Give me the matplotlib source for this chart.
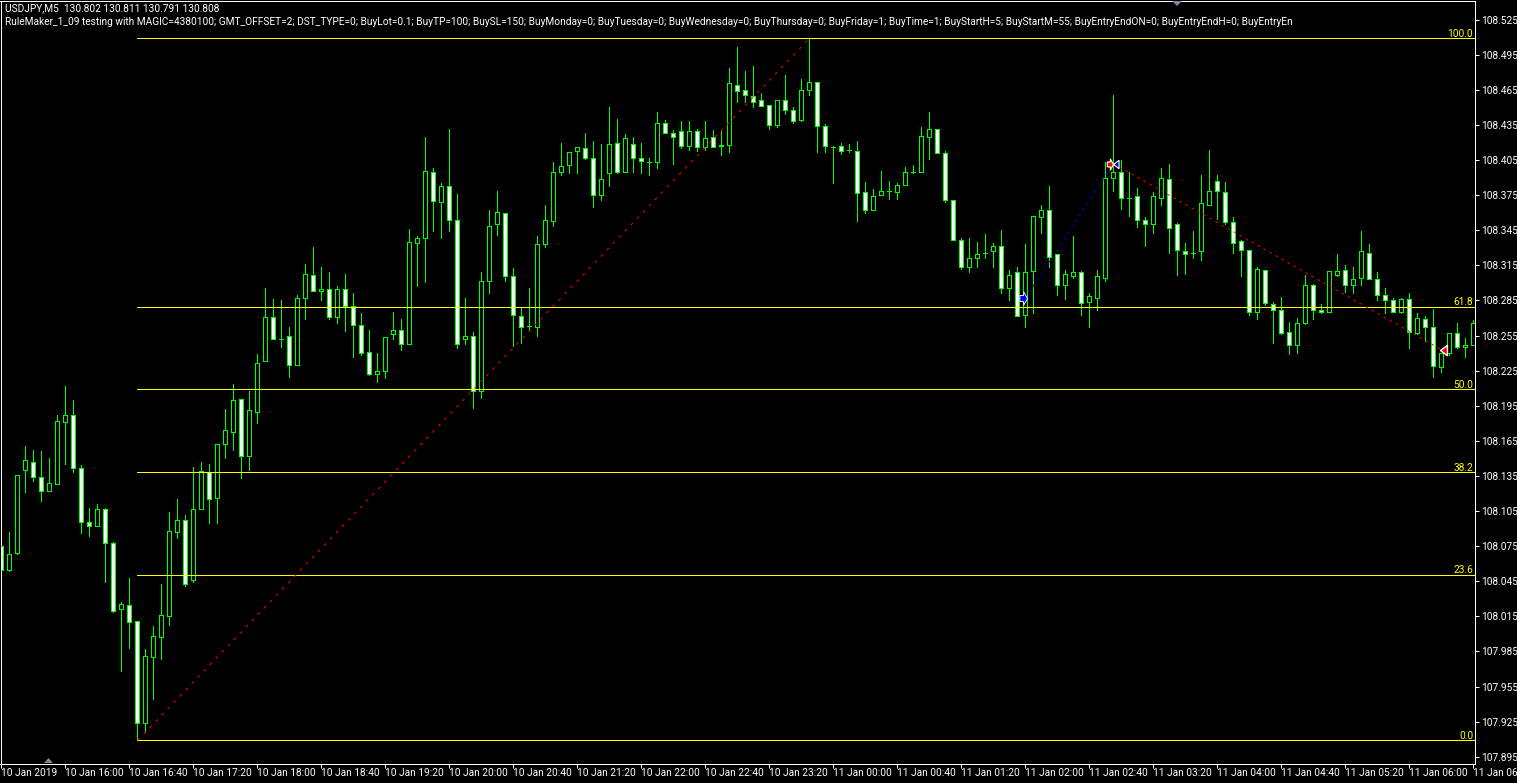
import matplotlib
matplotlib.use("Agg")
import matplotlib.pyplot as plt
import numpy as np

opens = [108.075,108.055,108.069,108.140,108.147,108.134,108.122,108.128,108.181,108.187,
108.142,108.096,108.092,108.107,108.078,108.021,108.025,108.011,107.924,107.980,
107.997,108.015,108.087,108.097,108.046,108.107,108.138,108.116,108.162,108.173,
108.201,108.152,108.190,108.233,108.271,108.252,108.255,108.230,108.287,108.307,
108.293,108.295,108.271,108.295,108.280,108.264,108.241,108.222,108.225,108.256,
108.260,108.248,108.334,108.338,108.395,108.369,108.383,108.354,108.252,108.255,
108.208,108.302,108.350,108.360,108.306,108.272,108.263,108.262,108.333,108.353,
108.395,108.401,108.413,108.415,108.407,108.375,108.394,108.420,108.395,108.419,
108.407,108.403,108.403,108.437,108.428,108.430,108.417,108.430,108.416,108.425,
108.417,108.418,108.469,108.465,108.460,108.456,108.452,108.435,108.456,108.448,
108.439,108.465,108.472,108.434,108.416,108.417,108.414,108.413,108.378,108.362,
108.375,108.379,108.378,108.384,108.395,108.395,108.425,108.432,108.411,108.371,
108.337,108.314,108.321,108.326,108.327,108.332,108.296,108.309,108.273,108.310,
108.356,108.362,108.325,108.298,108.306,108.309,108.284,108.287,108.304,108.390,
108.395,108.373,108.374,108.354,108.350,108.373,108.389,108.350,108.327,108.326,
108.327,108.367,108.387,108.378,108.352,108.336,108.328,108.275,108.311,108.282,
108.277,108.258,108.247,108.266,108.298,108.277,108.275,108.307,108.311,108.298,
108.304,108.326,108.303,108.290,108.285,108.275,108.286,108.257,108.269,108.262,
108.228,108.240,108.257,108.245,108.247]

highs = [108.092,108.087,108.136,108.161,108.157,108.156,108.150,108.187,108.212,108.200,
108.144,108.108,108.111,108.108,108.079,108.027,108.048,108.011,107.987,108.007,
108.043,108.104,108.115,108.102,108.143,108.147,108.145,108.162,108.192,108.214,
108.201,108.208,108.239,108.296,108.286,108.285,108.262,108.290,108.316,108.331,
108.314,108.309,108.297,108.308,108.291,108.274,108.260,108.240,108.254,108.275,
108.269,108.346,108.340,108.425,108.398,108.385,108.432,108.376,108.287,108.258,
108.309,108.362,108.379,108.360,108.313,108.279,108.296,108.340,108.367,108.403,
108.420,108.412,108.416,108.428,108.421,108.419,108.450,108.440,108.427,108.425,
108.420,108.407,108.446,108.439,108.431,108.438,108.438,108.432,108.438,108.431,
108.430,108.484,108.502,108.481,108.485,108.462,108.452,108.456,108.478,108.450,
108.474,108.509,108.472,108.436,108.417,108.420,108.419,108.421,108.386,108.380,
108.396,108.387,108.385,108.399,108.401,108.433,108.446,108.432,108.413,108.371,
108.338,108.338,108.335,108.342,108.334,108.345,108.311,108.314,108.333,108.357,
108.367,108.383,108.325,108.311,108.340,108.310,108.291,108.311,108.403,108.461,
108.405,108.395,108.381,108.356,108.378,108.398,108.402,108.351,108.334,108.344,
108.392,108.414,108.392,108.386,108.356,108.337,108.328,108.314,108.311,108.284,
108.288,108.267,108.270,108.307,108.299,108.282,108.310,108.325,108.315,108.314,
108.344,108.333,108.309,108.296,108.287,108.287,108.291,108.274,108.272,108.278,
108.240,108.257,108.266,108.253,108.268]

lows = [108.041,108.054,108.068,108.121,108.131,108.114,108.122,108.128,108.145,108.138,
108.086,108.084,108.092,108.044,108.019,107.968,107.988,107.909,107.916,107.944,
107.979,108.008,108.082,108.041,108.044,108.107,108.095,108.095,108.150,108.157,
108.133,108.140,108.180,108.233,108.252,108.245,108.220,108.230,108.269,108.293,
108.285,108.269,108.266,108.259,108.237,108.238,108.221,108.215,108.219,108.252,
108.243,108.248,108.297,108.301,108.344,108.338,108.344,108.244,108.248,108.193,
108.202,108.291,108.341,108.302,108.246,108.249,108.260,108.255,108.331,108.349,
108.392,108.394,108.394,108.406,108.365,108.371,108.383,108.394,108.395,108.395,
108.394,108.392,108.398,108.428,108.402,108.415,108.414,108.413,108.414,108.416,
108.409,108.412,108.455,108.455,108.450,108.451,108.432,108.433,108.444,108.437,
108.438,108.461,108.412,108.412,108.385,108.410,108.412,108.353,108.360,108.362,
108.375,108.372,108.372,108.384,108.394,108.395,108.406,108.411,108.369,108.337,
108.312,108.309,108.314,108.321,108.314,108.291,108.285,108.272,108.262,108.274,
108.343,108.314,108.290,108.286,108.304,108.273,108.262,108.277,108.302,108.379,
108.363,108.357,108.348,108.332,108.343,108.367,108.326,108.307,108.308,108.321,
108.320,108.367,108.355,108.350,108.326,108.306,108.273,108.269,108.281,108.249,
108.256,108.239,108.240,108.265,108.269,108.274,108.275,108.306,108.292,108.291,
108.298,108.303,108.285,108.274,108.275,108.274,108.244,108.256,108.250,108.220,
108.224,108.238,108.244,108.237,108.247]

closes = [108.055,108.068,108.136,108.149,108.134,108.122,108.129,108.182,108.187,108.142,
108.096,108.092,108.107,108.078,108.020,108.026,108.010,107.924,107.981,107.998,
108.016,108.088,108.097,108.043,108.107,108.139,108.115,108.162,108.174,108.200,
108.152,108.191,108.232,108.271,108.252,108.252,108.230,108.287,108.308,108.293,
108.295,108.271,108.295,108.280,108.264,108.240,108.222,108.225,108.254,108.260,
108.248,108.335,108.338,108.396,108.370,108.383,108.354,108.248,108.255,108.208,
108.302,108.349,108.361,108.306,108.273,108.262,108.263,108.333,108.354,108.395,
108.400,108.412,108.416,108.407,108.375,108.389,108.419,108.395,108.424,108.407,
108.404,108.403,108.437,108.428,108.425,108.417,108.430,108.416,108.424,108.416,
108.418,108.471,108.464,108.461,108.455,108.451,108.435,108.456,108.448,108.438,
108.465,108.472,108.434,108.417,108.416,108.413,108.414,108.377,108.362,108.374,
108.379,108.379,108.384,108.395,108.395,108.426,108.432,108.411,108.371,108.337,
108.314,108.321,108.325,108.326,108.332,108.296,108.307,108.272,108.309,108.357,
108.362,108.322,108.298,108.308,108.309,108.283,108.289,108.306,108.390,108.395,
108.373,108.373,108.354,108.350,108.374,108.390,108.347,108.328,108.325,108.326,
108.368,108.379,108.379,108.352,108.334,108.328,108.275,108.312,108.283,108.277,
108.257,108.247,108.266,108.298,108.277,108.275,108.310,108.310,108.298,108.303,
108.327,108.303,108.290,108.285,108.275,108.286,108.258,108.270,108.262,108.229,
108.240,108.257,108.245,108.247,108.266]

fib_levels = [0.0, 23.6, 38.2, 50.0, 61.8, 100.0]
fib_low = 107.909
fib_high = 108.509
fib_start_bar = 17

swing_bars = [17, 101]
swing_prices = [107.909, 108.509]
entry_bars = [128, 139]
entry_prices = [108.287, 108.402]
exit_bars = [139, 180]
exit_prices = [108.402, 108.243]

price_ticks = [107.895,107.925,107.955,107.985,108.015,108.045,108.075,108.105,108.135,108.165,
               108.195,108.225,108.255,108.285,108.315,108.345,108.375,108.405,108.435,108.465,108.495,108.525]
time_tick_bars = list(range(0, 185, 8))
time_labels = ["10 Jan 2019","10 Jan 16:00","10 Jan 16:40","10 Jan 17:20","10 Jan 18:00","10 Jan 18:40",
               "10 Jan 19:20","10 Jan 20:00","10 Jan 20:40","10 Jan 21:20","10 Jan 22:00","10 Jan 22:40",
               "10 Jan 23:20","11 Jan 00:00","11 Jan 00:40","11 Jan 01:20","11 Jan 02:00","11 Jan 02:40",
               "11 Jan 03:20","11 Jan 04:00","11 Jan 04:40","11 Jan 05:20","11 Jan 06:00","11 Jan 06:40"]
title_1 = "USDJPY,M5  130.802 130.811 130.791 130.808"
title_2 = ("RuleMaker_1_09 testing with MAGIC=4380100; GMT_OFFSET=2; DST_TYPE=0; BuyLot=0.1; BuyTP=100; "
           "BuySL=150; BuyMonday=0; BuyTuesday=0; BuyWednesday=0; BuyThursday=0; BuyFriday=1; BuyTime=1; "
           "BuyStartH=5; BuyStartM=55; BuyEntryEndON=0; BuyEntryEndH=0; BuyEntryEn")

W, H = 1517, 783
FONT = "Roboto"
FS = 7.3
PX = 0.72
GREEN = "#00FF00"
YELLOW = "#FFFF00"

fig = plt.figure(figsize=(W / 100, H / 100), dpi=100, facecolor="black")
ax = fig.add_axes([0.5 / W, 1 - 763.5 / H, 1474 / W, 763 / H], facecolor="black")
ax.set_xlim(-0.125, 184.125)
ax.set_ylim(107.88927, 108.54141)

x = np.arange(len(opens))
o, h, l, c = map(np.array, (opens, highs, lows, closes))
ax.vlines(x, l, h, color=GREEN, lw=PX, antialiased=False, zorder=2)
tops = np.maximum(o, c)
bots = np.minimum(o, c)
fills = ["white" if cc < oo else "black" for oo, cc in zip(o, c)]
ax.bar(x, tops - bots, bottom=bots, width=0.5, color=fills, edgecolor=GREEN, linewidth=PX,
       antialiased=False, zorder=3)

for lev in fib_levels:
    p = fib_low + (fib_high - fib_low) * lev / 100
    ax.plot([fib_start_bar, 184.125], [p, p], color=YELLOW, lw=PX, antialiased=False, zorder=4)
    ax.annotate(f"{lev:.1f}", xy=(1, p), xycoords=("axes fraction", "data"), xytext=(-1.0, -0.5),
                textcoords="offset points", ha="right", va="bottom", color=YELLOW,
                fontsize=FS, family=FONT, zorder=6)

ax.plot(swing_bars, swing_prices, color="#FF0000", lw=PX, ls=(0, (3.0, 5.7)), zorder=5)
ax.plot(entry_bars, entry_prices, color="#0000FF", lw=PX, ls=(0, (2.5, 4.5)), zorder=5)
ax.plot(exit_bars, exit_prices, color="#FF0000", lw=PX, ls=(0, (2.5, 4.4)), zorder=5)

right_arrow = [(-1, -0.4), (-0.5, -0.4), (-0.5, -0.9), (0, 0), (-0.5, 0.9), (-0.5, 0.4), (-1, 0.4), (-1, -0.4)]
left_tri = [(0, 0), (1, -0.75), (1, 0.75), (0, 0)]
ax.plot(entry_bars[0] + 0.2, entry_prices[0], marker=right_arrow, ms=11, mfc="#0000FF", mec="white", mew=0.6, zorder=7)
ax.plot(exit_bars[0], exit_prices[0], marker=left_tri, ms=8, mfc="#0000FF", mec="white", mew=0.8, zorder=7)
ax.plot(exit_bars[0], exit_prices[0], marker=right_arrow, ms=9, mfc="#FF0000", mec="white", mew=0.8, zorder=8)
ax.plot(exit_bars[1] - 0.2, exit_prices[1], marker=left_tri, ms=10, mfc="#FF0000", mec="white", mew=1.0, zorder=7)

for s in ax.spines.values():
    s.set_color("white")
    s.set_linewidth(PX)
ax.yaxis.tick_right()
ax.set_yticks(price_ticks)
ax.set_yticklabels([f"{t:.3f}" for t in price_ticks], family=FONT, fontsize=FS, color="white")
ax.tick_params(axis="y", length=3.0, width=PX, color="white", pad=1.5)
ax.set_xticks(time_tick_bars)
ax.set_xticklabels(time_labels, family=FONT, fontsize=FS, color="white", ha="left")
ax.tick_params(axis="x", length=3.0, width=PX, color="white", pad=0.5)

fig.text(5 / W, 1 - 8.5 / H, title_1, color="white", fontsize=FS, family=FONT, va="center", ha="left")
fig.text(5 / W, 1 - 22 / H, title_2, color="white", fontsize=FS, family=FONT, va="center", ha="left")

grey = "#778899"
fig.patches.append(plt.Polygon([[44 / W, 1 - 763 / H], [53 / W, 1 - 763 / H], [48.5 / W, 1 - 758 / H]],
                               closed=True, transform=fig.transFigure, fc=grey, ec="none"))
fig.patches.append(plt.Polygon([[1172 / W, 1 - 1 / H], [1182 / W, 1 - 1 / H], [1177 / W, 1 - 6 / H]],
                               closed=True, transform=fig.transFigure, fc=grey, ec="none"))

fig.savefig("out.png", dpi=100, facecolor="black")
